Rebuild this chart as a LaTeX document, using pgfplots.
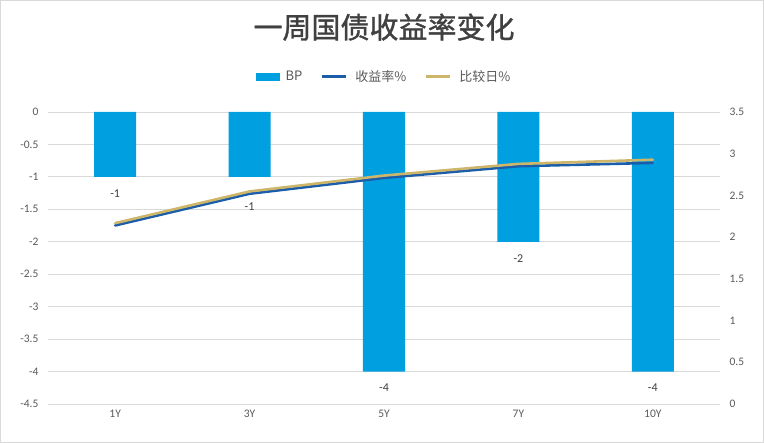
\documentclass[border=0pt]{standalone}
\usepackage{pgfplots}
\pgfplotsset{compat=1.18}
\usepackage{fontspec}
\setmainfont{Carlito}
\newfontfamily\cjk{Noto Sans CJK SC}
\newfontfamily\cjktitle[FakeBold=1.3]{Noto Sans CJK SC}
\definecolor{barblue}{HTML}{00A0E0}
\definecolor{yieldblue}{HTML}{1C5DAA}
\definecolor{gold}{HTML}{CDB66A}
\definecolor{gridgray}{HTML}{D9D9D9}
\definecolor{txtgray}{HTML}{595959}
\definecolor{titlegray}{HTML}{404040}

\pgfplotstableread{
x  bp  shift
0  -1  -9
1  -1  -22
2  -4  -9
3  -2  -9
4  -4  -9
}\bpdata

\begin{document}
\begin{tikzpicture}
% outer frame of the chart area
\draw[gridgray, line width=1pt] (-47.5pt,-38.5pt) rectangle ++(763pt,442pt);

\begin{axis}[
    scale only axis,
    width=672pt, height=292pt,
    xmin=-0.5, xmax=4.5,
    ymin=-4.5, ymax=0,
    ytick={-4.5,-4,-3.5,-3,-2.5,-2,-1.5,-1,-0.5,0},
    xtick={0,1,2,3,4},
    xticklabels={1Y,3Y,5Y,7Y,10Y},
    axis line style={draw=none},
    axis x line*=bottom,
    axis y line*=left,
    tick style={draw=none},
    ymajorgrids,
    grid style={gridgray, line width=0.9pt},
    yticklabel style={font=\fontsize{11.5}{13}\selectfont, text=txtgray, xshift=-6pt},
    xticklabel style={font=\fontsize{11.5}{13}\selectfont, text=txtgray, yshift=-3pt},
    /pgf/number format/assume math mode=true,
    title={\cjktitle 一周国债收益率变化},
    title style={at={(0.5,1.27)}, anchor=center, font=\fontsize{29}{34}\selectfont\cjktitle, text=titlegray},
    legend style={at={(0.5,1.12)}, anchor=center, draw=none, fill=none,
        legend columns=3, font=\fontsize{13}{15}\selectfont\cjk, text=txtgray,
        /tikz/every even column/.append style={column sep=16pt}},
    legend image code/.code={\draw[#1, line width=3pt] (0pt,0pt) -- (24pt,0pt);},
]
\addplot[ybar, bar width=42pt, fill=barblue, draw=none,
    legend image code/.code={\fill[barblue] (0pt,-4pt) rectangle (24pt,4pt);},
    visualization depends on={\thisrow{shift} \as \myshift},
    nodes near coords,
    every node near coord/.append style={anchor=north, yshift=\myshift pt,
        font=\fontsize{12}{14}\selectfont, text=titlegray}]
table[x=x, y=bp] {\bpdata};
\addlegendentry{\hspace{4pt}BP}
\addlegendimage{yieldblue}
\addlegendentry{\hspace{6pt}收益率\%}
\addlegendimage{gold}
\addlegendentry{\hspace{6pt}比较日\%}
\end{axis}

\begin{axis}[
    scale only axis,
    width=672pt, height=292pt,
    xmin=-0.5, xmax=4.5,
    ymin=0, ymax=3.5,
    ytick={0,0.5,1,1.5,2,2.5,3,3.5},
    xtick=\empty,
    axis x line=none,
    axis y line*=right,
    axis line style={draw=none},
    tick style={draw=none},
    yticklabel style={font=\fontsize{11.5}{13}\selectfont, text=txtgray, xshift=6pt},
    /pgf/number format/assume math mode=true,
]
\addplot[yieldblue, line width=2.6pt, line join=round, line cap=round]
coordinates {(0,2.14) (1,2.52) (2,2.71) (3,2.85) (4,2.89)};
\addplot[gold, line width=2.6pt, line join=round, line cap=round, yshift=1.5pt]
coordinates {(0,2.15) (1,2.53) (2,2.72) (3,2.86) (4,2.91)};
\end{axis}
\end{tikzpicture}
\end{document}
